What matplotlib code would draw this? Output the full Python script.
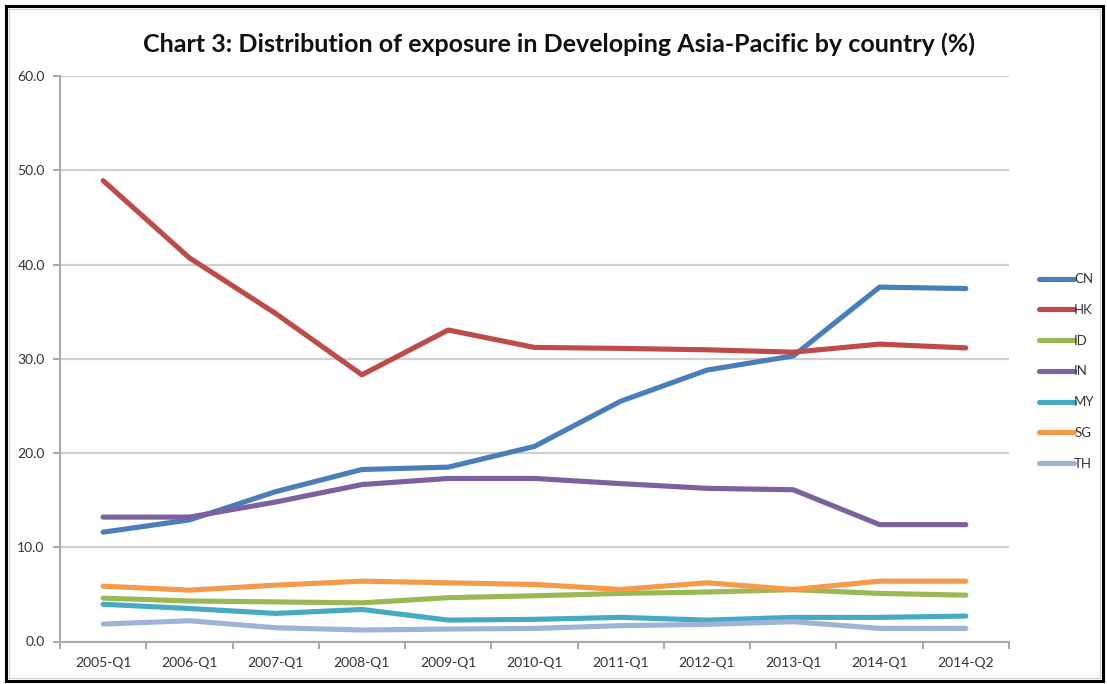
import matplotlib
matplotlib.use("Agg")
import matplotlib.pyplot as plt
from matplotlib.patches import Rectangle
from matplotlib.ticker import FixedLocator, NullFormatter

plt.rcParams['font.family'] = ['Lato', 'DejaVu Sans']

categories = ["2005-Q1", "2006-Q1", "2007-Q1", "2008-Q1", "2009-Q1", "2010-Q1",
              "2011-Q1", "2012-Q1", "2013-Q1", "2014-Q1", "2014-Q2"]

CN = [11.6, 12.9, 15.9, 18.25, 18.5, 20.7, 25.5, 28.8, 30.3, 37.6, 37.45]
HK = [48.9, 40.7, 34.8, 28.3, 33.05, 31.2, 31.1, 30.95, 30.7, 31.55, 31.15]
ID = [4.6, 4.3, 4.2, 4.1, 4.65, 4.85, 5.1, 5.25, 5.5, 5.1, 4.92]
IN = [13.2, 13.2, 14.8, 16.65, 17.3, 17.3, 16.75, 16.25, 16.1, 12.4, 12.4]
MY = [3.95, 3.5, 2.98, 3.4, 2.27, 2.35, 2.56, 2.27, 2.56, 2.56, 2.7]
SG = [5.87, 5.45, 5.98, 6.4, 6.23, 6.05, 5.52, 6.23, 5.52, 6.4, 6.4]
TH = [1.85, 2.2, 1.46, 1.22, 1.32, 1.39, 1.68, 1.82, 2.1, 1.39, 1.39]

series_names = ["CN", "HK", "ID", "IN", "MY", "SG", "TH"]
series_values = [CN, HK, ID, IN, MY, SG, TH]
colors = ["#4a7ebb", "#be4b48", "#98b954", "#7d60a0", "#46aac5", "#f59a48", "#9db3d8"]

yticks = [0, 10, 20, 30, 40, 50, 60]
ytick_labels = ["0.0", "10.0", "20.0", "30.0", "40.0", "50.0", "60.0"]

W, H = 1107, 684
fig = plt.figure(figsize=(W / 100, H / 100), dpi=100)
fig.patch.set_facecolor("white")

ax = fig.add_axes([60 / W, 1 - 641.5 / H, (1009 - 60) / W, (641.5 - 76) / H])
x = list(range(len(categories)))
for name, vals, c in zip(series_names, series_values, colors):
    ax.plot(x, vals, color=c, lw=3.7, label=name, solid_capstyle="round",
            solid_joinstyle="round")

ax.set_xlim(-0.5, len(categories) - 0.5)
ax.set_ylim(0, 60)
ax.set_yticks(yticks)
ax.set_yticklabels(ytick_labels)
ax.set_xticks(x)
ax.set_xticklabels(categories)
ax.xaxis.set_minor_locator(FixedLocator([i - 0.5 for i in range(len(categories) + 1)]))
ax.xaxis.set_minor_formatter(NullFormatter())
ax.tick_params(axis="x", which="major", length=0, pad=11, labelsize=10, labelcolor="#333333")
ax.tick_params(axis="x", which="minor", length=5, width=1.2, color="#999999")
ax.tick_params(axis="y", length=5, width=1.2, color="#999999", pad=6, labelsize=10,
               labelcolor="#333333")

ax.grid(axis="y", color="#cfcfcf", lw=1.6)
ax.set_axisbelow(True)
for s in ["top", "right"]:
    ax.spines[s].set_visible(False)
ax.spines["left"].set_color("#aaaaaa")
ax.spines["left"].set_linewidth(1.5)
ax.spines["bottom"].set_color("#aaaaaa")
ax.spines["bottom"].set_linewidth(1.5)

leg = fig.legend(loc="upper left", bbox_to_anchor=(1034 / W, 1 - 268 / H), frameon=False,
                 fontsize=9.5, handlelength=2.6, handletextpad=0.05, labelspacing=1.42,
                 borderaxespad=0)
for t in leg.get_texts():
    t.set_color("#333333")

fig.text(559 / W, 1 - 44 / H,
         "Chart 3: Distribution of exposure in Developing Asia-Pacific by country (%)",
         ha="center", va="center", fontsize=18, fontweight="bold", color="#111111")

fig.patches.append(Rectangle((6 / W, 3 / H), (W - 10) / W, (H - 9) / H,
                             transform=fig.transFigure, fill=False, edgecolor="black",
                             lw=2.2))
fig.patches.append(Rectangle((9 / W, 6 / H), (W - 16) / W, (H - 15) / H,
                             transform=fig.transFigure, fill=False, edgecolor="#cccccc",
                             lw=0.8))

fig.savefig("out.png", dpi=100)
